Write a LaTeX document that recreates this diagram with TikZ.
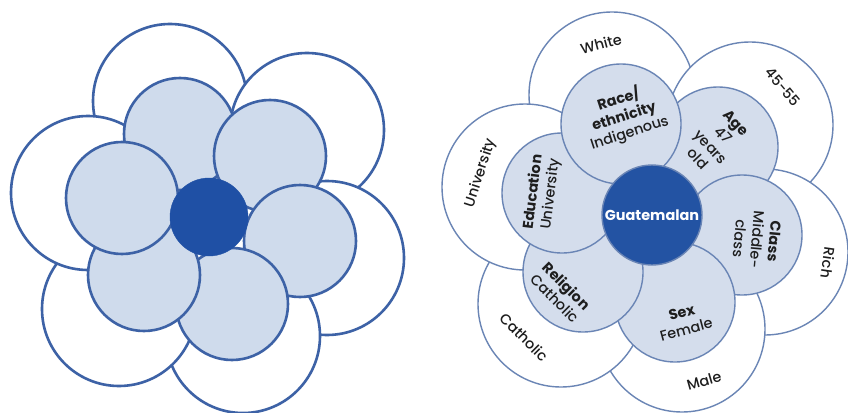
\documentclass[tikz,border=0pt]{standalone}
\usepackage{fontspec}
\setmainfont{Poppins}[UprightFont=* Medium, BoldFont=* Bold]
\definecolor{lline}{HTML}{3D62A6}
\definecolor{lfill}{HTML}{CFDBEC}
\definecolor{lcorec}{HTML}{1F50A5}
\definecolor{rline}{HTML}{6A85B5}
\definecolor{rfill}{HTML}{D4DDEC}
\definecolor{rcorec}{HTML}{2353A3}
\definecolor{txt}{HTML}{1E1E1E}
\tikzset{
  lout/.style={circle, inner sep=0pt, outer sep=0pt, minimum size=154bp, draw=lline, line width=2.6bp, fill=white},
  lin/.style={circle, inner sep=0pt, outer sep=0pt, minimum size=112bp, draw=lline, line width=2.6bp, fill=lfill},
  lcore/.style={circle, inner sep=0pt, outer sep=0pt, minimum size=78bp, draw=lcorec, fill=lcorec},
  rout/.style={circle, inner sep=0pt, outer sep=0pt, minimum size=166bp, draw=rline, line width=1.4bp, fill=white},
  rin/.style={circle, inner sep=0pt, outer sep=0pt, minimum size=120bp, draw=rline, line width=1.4bp, fill=rfill},
  rcore/.style={circle, inner sep=0pt, outer sep=0pt, minimum size=100bp, draw=rline, line width=1.4bp, fill=rcorec},
  lab/.style={inner sep=0pt, align=center, text=txt, font=\fontsize{14.5}{17.5}\selectfont},
}
\begin{document}
\begin{tikzpicture}[x=1bp, y=1bp]
\useasboundingbox[fill=white] (0,0) rectangle (848,412);
% ---------- left flower ----------
\node[lout] (lo1) at (170,311) {};
\node[lout] (lo2) at (307,282) {};
\node[lout] (lo3) at (327,154) {};
\node[lout] (lo4) at (243,76) {};
\node[lout] (lo5) at (119,103) {};
\node[lout] (lo6) at (88,219) {};
\node[lin] (li1) at (180,278) {};
\node[lin] (li2) at (270,256) {};
\node[lin] (li3) at (300,171) {};
\node[lin] (li4) at (232,108) {};
\node[lin] (li5) at (144,137) {};
\node[lin] (li6) at (122,214) {};
\node[lcore] (lc) at (209,195) {};
% ---------- right flower ----------
\node[rout] (white) at (612,317) {};
\node[rout] (age2) at (750,287) {};
\node[rout] (rich) at (765,160) {};
\node[rout] (male) at (682,83) {};
\node[rout] (cath) at (561,108) {};
\node[rout] (univ) at (525,225) {};
\node[rin] (age) at (718,265) {};
\node[rin] (class) at (742,177) {};
\node[rin] (sex) at (675,110) {};
\node[rin] (relig) at (583,140) {};
\node[rin] (educ) at (562,219) {};
\node[rin] (race) at (621,288) {};
\node[rcore] (guat) at (652,197) {};
% ---------- labels ----------
\node[lab, rotate=15] (tWhite) at (601,368) {White};
\node[lab, rotate=-50] (t4555) at (783,325) {45-55};
\node[lab, rotate=-98] (tRich) at (828,149) {Rich};
\node[lab, rotate=16] (tMale) at (704,31) {Male};
\node[lab, rotate=-45] (tCath) at (524,75) {Catholic};
\node[lab, rotate=72] (tUniv) at (481,239) {University};
\node[lab, rotate=18] (tRace) at (624,296) {\textbf{Race/}\\\textbf{ethnicity}\\Indigenous};
\node[lab, rotate=-47] (tAge) at (717,271) {\textbf{Age}\\47\\years\\old};
\node[lab, rotate=-95] (tClass) at (757,172) {\textbf{Class}\\Middle-\\class};
\node[lab, rotate=15] (tSex) at (684,91) {\textbf{Sex}\\Female};
\node[lab, rotate=-45] (tRelig) at (561,120) {\textbf{Religion}\\Catholic};
\node[lab, rotate=83] (tEduc) at (542,219) {\textbf{Education}\\University};
\node[lab, text=white, font=\fontsize{14.5}{16}\selectfont\bfseries] (tGuat) at (652,197) {Guatemalan};
\end{tikzpicture}
\end{document}
